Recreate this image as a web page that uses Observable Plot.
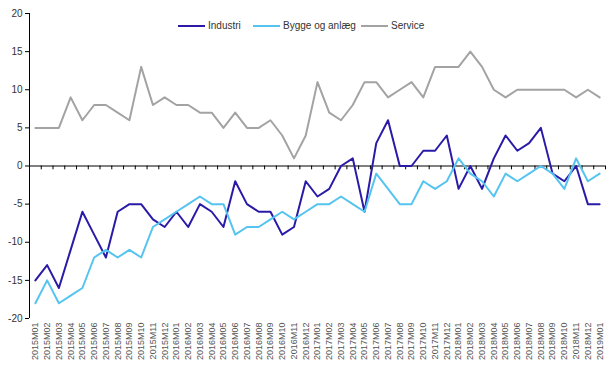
<!DOCTYPE html>
<html><head><meta charset="utf-8">
<script src="https://cdn.jsdelivr.net/npm/d3@7"></script>
<script src="https://cdn.jsdelivr.net/npm/@observablehq/plot@0.6"></script>
<style>
body{margin:0;background:#fff;font-family:"Liberation Sans",Arial,sans-serif;}
#wrap{position:relative;width:616px;height:370px;}
#legend{position:absolute;top:20px;left:178px;font-size:10px;color:#333;}
.item{display:flex;align-items:center;position:absolute;white-space:nowrap;}
.sw{display:inline-block;width:27px;height:2px;margin-right:3px;}
</style></head><body>
<div id="wrap"><div id="legend"></div></div>
<script>
const months = [];
for (let y = 2015; y <= 2018; y++) for (let m = 1; m <= 12; m++) months.push(`${y}M${String(m).padStart(2,"0")}`);
months.push("2019M01");

const industri = [-15,-13,-16,-11,-6,-9,-12,-6,-5,-5,-7,-8,-6,-8,-5,-6,
  -8,-2,-5,-6,-6,-9,-8,-2,-4,-3,0,1,-6,3,6,0,
  0,2,2,4,-3,0,-3,1,4,2,3,5,-1,-2,0,-5,-5];
const bygge = [-18,-15,-18,-17,-16,-12,-11,-12,-11,-12,-8,-7,-6,-5,-4,-5,
  -5,-9,-8,-8,-7,-6,-7,-6,-5,-5,-4,-5,-6,-1,-3,-5,
  -5,-2,-3,-2,1,-1,-2,-4,-1,-2,-1,0,-1,-3,1,-2,-1];
const service = [5,5,5,9,6,8,8,7,6,13,8,9,8,8,7,7,
  5,7,5,5,6,4,1,4,11,7,6,8,11,11,9,10,
  11,9,13,13,13,15,13,10,9,10,10,10,10,10,9,10,9];

const seriesNames = ["Industri","Bygge og anlæg","Service"];
const seriesColors = ["#2a1aa8","#55c4f0","#a3a3a3"];
const seriesValues = [industri, bygge, service];
const yTicks = [-20,-15,-10,-5,0,5,10,15,20];

const data = [];
seriesNames.forEach((s, k) => seriesValues[k].forEach((v, i) => data.push({i, v, s})));
const idx = months.map((_, i) => i);
const bounds = d3.range(months.length + 1).map(i => i - 0.5);

const chart = Plot.plot({
  width: 616, height: 370,
  marginTop: 13, marginBottom: 52, marginLeft: 29, marginRight: 11,
  style: {fontFamily: "Liberation Sans, Arial, sans-serif", color: "#333"},
  x: {type: "linear", domain: [-0.5, months.length - 0.5], axis: null, label: null},
  y: {domain: [-20, 20], axis: null, label: null},
  color: {domain: seriesNames, range: seriesColors},
  marks: [
    Plot.axisY({ticks: yTicks, label: null, tickSize: 4, tickPadding: 3, fontSize: 10, stroke: "#000", fill: "#333", tickFormat: d => String(d)}),
    Plot.axisX({ticks: idx, label: null, tickFormat: i => months[i], tickRotate: -90, tickSize: 0, tickPadding: 4, fontSize: 9, fill: "#555"}),
    Plot.ruleX([-0.5], {stroke: "#000"}),
    Plot.ruleY([0], {stroke: "#000"}),
    Plot.ruleX(bounds, {y1: 0, y2: -0.5, stroke: "#000"}),
    Plot.line(data, {x: "i", y: "v", z: "s", stroke: "s", strokeWidth: 2})
  ]
});
document.getElementById("wrap").prepend(chart);

const leg = document.getElementById("legend");
const starts = [0, 75, 183];
seriesNames.forEach((s, k) => {
  const it = document.createElement("div");
  it.className = "item";
  it.style.left = starts[k] + "px";
  it.innerHTML = `<span class="sw" style="background:${seriesColors[k]}"></span><span>${s}</span>`;
  leg.appendChild(it);
});
</script>
</body></html>
